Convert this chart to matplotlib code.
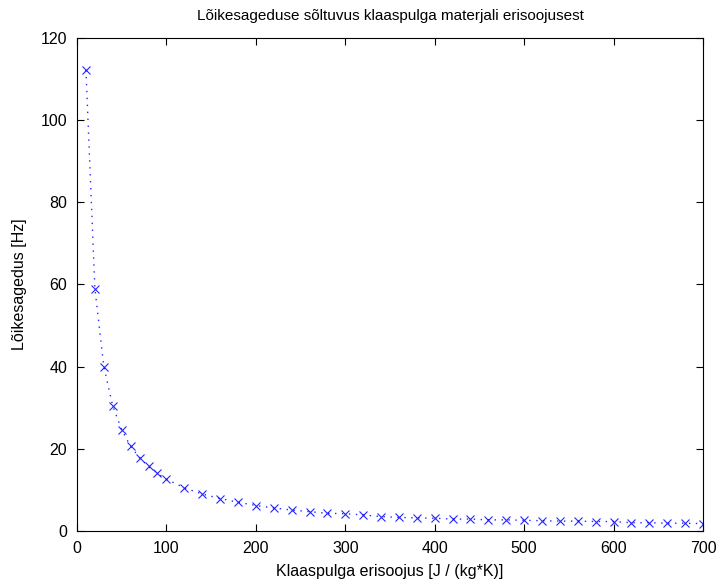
import matplotlib
matplotlib.use("Agg")
import matplotlib.pyplot as plt

# Klaaspulga erisoojus [J/(kg*K)] ja loikesagedus [Hz]
erisoojus = [10, 20, 30, 40, 50, 60, 70, 80, 90, 100,
             120, 140, 160, 180, 200, 220, 240, 260, 280, 300,
             320, 340, 360, 380, 400, 420, 440, 460, 480, 500,
             520, 540, 560, 580, 600, 620, 640, 660, 680, 700]
sagedus = [112.2, 59.0, 40.0, 30.4, 24.6, 20.6, 17.8, 15.7, 14.0, 12.6,
           10.5, 9.0, 7.9, 7.0, 6.2, 5.6, 5.1, 4.7, 4.3, 4.2,
           3.9, 3.5, 3.3, 3.2, 3.1, 2.9, 2.9, 2.7, 2.7, 2.6,
           2.5, 2.4, 2.4, 2.3, 2.3, 2.0, 2.0, 1.9, 1.9, 1.8]

x_ticks = [0, 100, 200, 300, 400, 500, 600, 700]
y_ticks = [0, 20, 40, 60, 80, 100, 120]

plt.rcParams['font.family'] = ['Liberation Sans', 'DejaVu Sans']

fig = plt.figure(figsize=(7.17, 5.86), dpi=100)
ax = fig.add_axes([0.1074, 0.0939, 0.8731, 0.8413])

# dotted line with sparse dots, 'x' markers (MATLAB ':xb' look)
ax.plot(erisoojus, sagedus, color='blue', linestyle=(0, (1, 4)), linewidth=1.0,
        marker='x', markersize=5.5, markeredgewidth=0.8, alpha=0.85)

ax.set_xlim(0, 700)
ax.set_ylim(0, 120)
ax.set_xticks(x_ticks)
ax.set_yticks(y_ticks)
ax.tick_params(direction='in', length=5, width=0.8, labelsize=11.5,
               top=True, right=True, pad=7)
for s in ax.spines.values():
    s.set_linewidth(0.8)

ax.set_title("Lõikesageduse sõltuvus klaaspulga materjali erisoojusest",
             fontsize=11, pad=13)
ax.set_xlabel("Klaaspulga erisoojus [J / (kg*K)]", fontsize=11.5, labelpad=6)
ax.set_ylabel("Lõikesagedus [Hz]", fontsize=11.5, labelpad=10)

fig.savefig("out.png", dpi=100)
